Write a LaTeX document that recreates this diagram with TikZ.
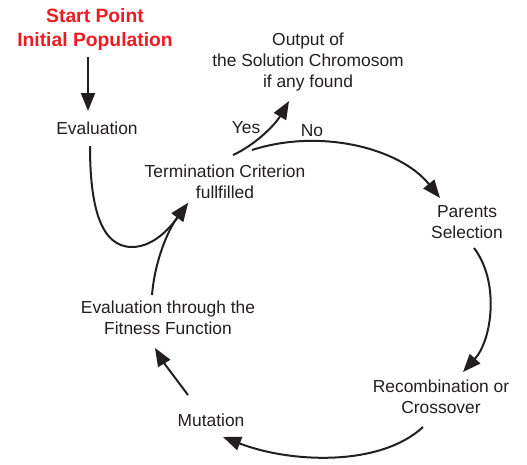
\documentclass[tikz,border=0pt]{standalone}
\usepackage{fontspec}
\setmainfont{Liberation Sans}
\usetikzlibrary{arrows.meta}
\definecolor{ink}{HTML}{231F20}
\definecolor{redt}{HTML}{ED1C24}
\tikzset{
  lbl/.style={align=center, text=ink, font=\fontsize{17.4}{21}\selectfont, inner sep=0pt},
  redlbl/.style={align=center, text=redt, font=\fontsize{19.3}{24}\selectfont\bfseries, inner sep=0pt},
  conn/.style={draw=ink, line width=2pt, -{Triangle[length=18pt,width=14pt]}},
}
\begin{document}
\begin{tikzpicture}[x=1pt,y=-1pt]
\useasboundingbox (0,0) rectangle (527,464);
\node[redlbl] (start) at (95,30) {Start Point\\Initial Population};
\node[lbl] (eval) at (97,128) {Evaluation};
\node[lbl] (out) at (308,62) {Output of\\the Solution Chromosom\\if any found};
\node[lbl] (term) at (225,182) {Termination Criterion\\fullfilled};
\node[lbl] (par) at (467,222) {Parents\\Selection};
\node[lbl] (fit) at (168,318) {Evaluation through the\\Fitness Function};
\node[lbl] (rec) at (441,397) {Recombination or\\Crossover};
\node[lbl] (mut) at (211,420) {Mutation};
\node[lbl] (yes) at (246,128) {Yes};
\node[lbl] (no) at (312,131) {No};

\coordinate (s1) at (88,57);  \coordinate (e1) at (88,111);
\coordinate (s2) at (90,146); \coordinate (u2) at (132,247); \coordinate (e2) at (188,203);
\coordinate (s3) at (152,295);
\coordinate (s4) at (233,155); \coordinate (e4) at (289,101);
\coordinate (s5) at (252,150); \coordinate (e5) at (440,198);
\coordinate (s6) at (474,248); \coordinate (e6) at (463,372);
\coordinate (s7) at (423,427); \coordinate (e7) at (223,437);
\coordinate (s8) at (188,395); \coordinate (e8) at (155,348);

\draw[conn] (s1) -- (e1);
\draw[conn] (s2) .. controls (90,205) and (100,247) .. (u2) .. controls (155,247) and (172,225) .. (e2);
\draw[conn] (s3) .. controls (155,260) and (168,230) .. (e2);
\draw[conn] (s4) .. controls (255,145) and (275,125) .. (e4);
\draw[conn] (s5) .. controls (320,128) and (400,148) .. (e5);
\draw[conn] (s6) .. controls (500,282) and (492,340) .. (e6);
\draw[conn] (s7) .. controls (380,467) and (290,463) .. (e7);
\draw[conn] (s8) .. controls (176,379) and (164,363) .. (e8);
\end{tikzpicture}
\end{document}
